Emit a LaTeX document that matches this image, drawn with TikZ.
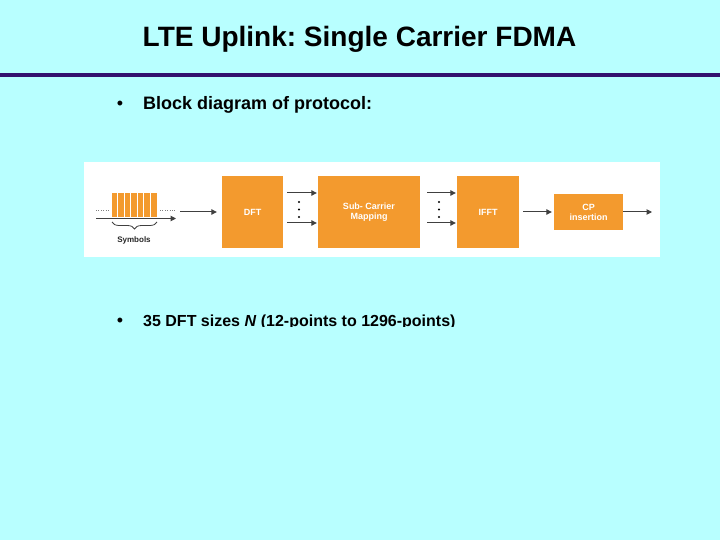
\documentclass[tikz,border=0pt]{standalone}
\usepackage{fontspec}
\setmainfont{Liberation Sans}
\frenchspacing
\usetikzlibrary{arrows.meta,decorations.pathreplacing}
\definecolor{slidecyan}{RGB}{184,255,255}
\definecolor{rulepurple}{RGB}{51,17,110}
\definecolor{blockorange}{RGB}{243,154,46}
\definecolor{arrowgray}{RGB}{64,64,64}

\begin{document}
\begin{tikzpicture}[x=1pt,y=-1pt,
    blockbox/.style={fill=blockorange, text=white, font=\fontsize{9}{10}\selectfont\bfseries, align=center, inner sep=0pt},
    flowarrow/.style={-{Triangle[length=5.5pt,width=5.5pt]}, arrowgray, line width=1pt},
    bullettext/.style={anchor=base west, inner sep=0pt, font=\fontsize{18}{20}\selectfont\bfseries},
    bulletdot/.style={anchor=base, inner sep=0pt, font=\fontsize{18}{20}\selectfont}]

    % Background
    \useasboundingbox (0,0) rectangle (720,540);
    \fill[slidecyan] (0,0) rectangle (720,540);

    % Title and rule
    \node[anchor=base, inner sep=0pt, font=\fontsize{28}{32}\selectfont\bfseries] (title) at (359.5,47) {LTE Uplink: Single Carrier FDMA};
    \fill[rulepurple] (0,73) rectangle (720,77);

    % First bullet
    \node[bulletdot] (bulletA) at (120,110) {\textbullet};
    \node[bullettext] (pointA) at (143,110) {Block diagram of protocol:};

    % White panel of the block diagram
    \fill[white] (84,162) rectangle (660,257);

    % Symbols block
    \node[fill=blockorange, minimum width=45pt, minimum height=24pt, inner sep=0pt] (symbols) at (134,205) {};
    \foreach \i in {1,...,6}
        \draw[white, line width=0.6pt] ([xshift=\i*6.43pt]symbols.north west) -- ([xshift=\i*6.43pt]symbols.south west);
    \coordinate (dotL) at (96,210);
    \coordinate (dotR) at (160,210);
    \draw[gray, dotted] (dotL) -- ++(14,0);
    \draw[gray, dotted] (dotR) -- ++(15,0);
    \coordinate (axisL) at (96,218.5);
    \coordinate (axisR) at (176,218.5);
    \draw[flowarrow] (axisL) -- (axisR);
    \draw[arrowgray, line width=0.8pt, decorate, decoration={brace, mirror, amplitude=7pt}] (112,222) -- (157,222);
    \node[font=\fontsize{8}{9}\selectfont\bfseries, text=arrowgray!60!black] (symlabel) at (134,240) {Symbols};

    % Processing boxes
    \node[blockbox, minimum width=61pt, minimum height=72pt] (dft) at (252.5,212) {DFT};
    \node[blockbox, minimum width=102pt, minimum height=72pt] (subcarrier) at (369,212) {Sub- Carrier\\Mapping};
    \node[blockbox, minimum width=62pt, minimum height=72pt] (ifft) at (488,212) {IFFT};
    \node[blockbox, minimum width=69pt, minimum height=36pt] (cp) at (588.5,212) {CP\\insertion};

    % Arrows showing data flow
    \coordinate (symout) at (180,212);
    \draw[flowarrow, shorten >=5pt] (symout) -- (dft.west);
    \draw[flowarrow, shorten <=4pt, shorten >=1pt] ([yshift=19pt]dft.east) -- ([yshift=19pt]subcarrier.west);
    \draw[flowarrow, shorten <=4pt, shorten >=1pt] ([yshift=-11pt]dft.east) -- ([yshift=-11pt]subcarrier.west);
    \draw[flowarrow, shorten <=7pt, shorten >=1pt] ([yshift=19pt]subcarrier.east) -- ([yshift=19pt]ifft.west);
    \draw[flowarrow, shorten <=7pt, shorten >=1pt] ([yshift=-11pt]subcarrier.east) -- ([yshift=-11pt]ifft.west);
    \draw[flowarrow, shorten <=4pt, shorten >=2pt] (ifft.east) -- (cp.west);
    \coordinate (cpout) at (652,212);
    \draw[flowarrow] (cp.east) -- (cpout);

    % Vertical dots between parallel arrows
    \foreach \yy in {202,209.5,217} {
        \fill (299,\yy) circle (1.2pt);
        \fill (439,\yy) circle (1.2pt);
    }

    % Second bullet, cut off at the bottom as on the slide
    \begin{scope}
        \clip (0,0) rectangle (720,326.5);
        \node[bulletdot] (bulletB) at (120,326) {\textbullet};
        \node[bullettext, font=\fontsize{16}{18}\selectfont\bfseries] (pointB) at (143,326) {35 DFT sizes \textit{N} (12-points to 1296-points)};
    \end{scope}
\end{tikzpicture}
\end{document}
